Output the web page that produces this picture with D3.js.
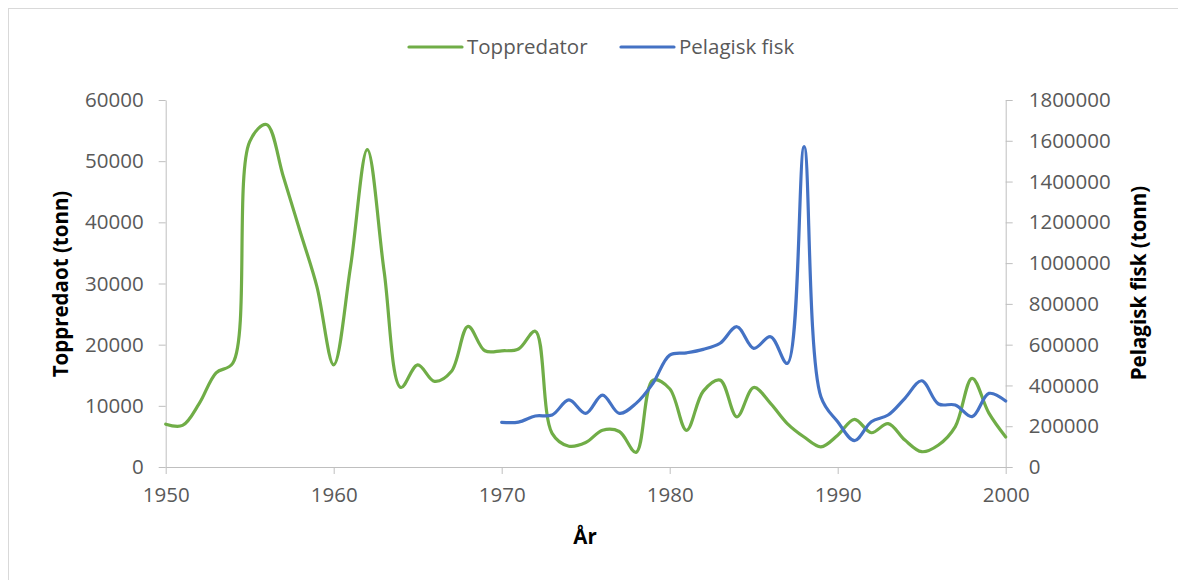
<!DOCTYPE html>
<html>
<head>
<meta charset="utf-8">
<script src="https://cdn.jsdelivr.net/npm/d3@7"></script>
<style>
  body { margin: 0; background: #fff; }
  text { font-family: "Open Sans", sans-serif; }
</style>
</head>
<body>
<script>
// data
const toppYears = d3.range(1950, 2001);
const toppredator = [7000, 6800, 10400, 15400, 17000, 53200, 56000, 47500, 38500, 29500,
  16700, 32700, 51900, 32000, 13000, 16700, 14000, 15600, 23000, 19000,
  19000, 19300, 22200, 5500, 3400, 4000, 6000, 5800, 2400, 14200,
  12800, 6000, 12400, 14200, 8200, 13000, 10400, 7100, 4900, 3300,
  5200, 7800, 5600, 7100, 4400, 2500, 3600, 6600, 14500, 8800, 4900];
const pelYears = d3.range(1970, 2001);
const pelagisk = [219000, 220000, 250000, 255000, 329000, 263000, 353000, 263000, 312000, 410000,
  549000, 560000, 577000, 607000, 688000, 582000, 639000, 508000, 1571000, 345000,
  222000, 129000, 222000, 255000, 337000, 423000, 309000, 304000, 247000, 361000, 324000];
const xTicks = [1950, 1960, 1970, 1980, 1990, 2000];
const leftTicks = d3.range(0, 60001, 10000);
const rightTicks = d3.range(0, 1800001, 200000);
const seriesNames = ["Toppredator", "Pelagisk fisk"];

const W = 1178, H = 580;
const xLeft = 165.7, xRight = 1005.7, yTop = 100, yBottom = 467;
const green = "#70AD47", blue = "#4472C4", axisCol = "#BFBFBF", txtCol = "#595959";
const fs = "20.5px";

const svg = d3.select("body").append("svg")
    .attr("width", W)
    .attr("height", H);

svg.append("rect")
    .attr("x", 8.5).attr("y", 8.5)
    .attr("width", 1300).attr("height", 700)
    .attr("fill", "white")
    .attr("stroke", "#D9D9D9");

let x = d3.scaleLinear().domain([1950, 2000]).range([xLeft, xRight]);
let yL = d3.scaleLinear().domain([0, 60000]).range([yBottom, yTop]);
let yR = d3.scaleLinear().domain([0, 1800000]).range([yBottom, yTop]);

function styleAxis(g) {
    g.select(".domain").attr("stroke", axisCol);
    g.selectAll(".tick line").attr("stroke", axisCol);
    g.selectAll(".tick text")
        .attr("fill", txtCol)
        .style("font-size", fs)
        .style("font-family", "'Open Sans', sans-serif");
}

svg.append("g")
    .attr("transform", `translate(${xLeft}, 0)`)
    .call(d3.axisLeft(yL).tickValues(leftTicks).tickFormat(d3.format("d")).tickSize(7).tickSizeOuter(0).tickPadding(15))
    .call(styleAxis);

svg.append("g")
    .attr("transform", `translate(${xRight}, 0)`)
    .call(d3.axisRight(yR).tickValues(rightTicks).tickFormat(d3.format("d")).tickSize(7).tickSizeOuter(0).tickPadding(16))
    .call(styleAxis);

svg.append("g")
    .attr("transform", `translate(0, ${yBottom})`)
    .call(d3.axisBottom(x).tickValues(xTicks).tickFormat(d3.format("d")).tickSize(7).tickSizeOuter(0).tickPadding(13))
    .call(styleAxis);

// axis titles
svg.append("text")
    .attr("transform", `translate(68, 284) rotate(-90)`)
    .attr("text-anchor", "middle")
    .style("font-size", fs).style("font-weight", "bold")
    .text("Toppredaot (tonn)");

svg.append("text")
    .attr("transform", `translate(1146, 283) rotate(-90)`)
    .attr("text-anchor", "middle")
    .style("font-size", fs).style("font-weight", "bold")
    .text("Pelagisk fisk (tonn)");

svg.append("text")
    .attr("x", 585).attr("y", 544)
    .attr("text-anchor", "middle")
    .style("font-size", fs).style("font-weight", "bold")
    .text("År");

// lines
const lineL = d3.line()
    .x((d, i) => x(toppYears[i]))
    .y(d => yL(d))
    .curve(d3.curveCatmullRom.alpha(0.5));
const lineR = d3.line()
    .x((d, i) => x(pelYears[i]))
    .y(d => yR(d))
    .curve(d3.curveCatmullRom.alpha(0.5));

svg.append("path")
    .attr("d", lineL(toppredator))
    .attr("fill", "none")
    .attr("stroke", green)
    .attr("stroke-width", 3.2)
    .attr("stroke-linecap", "round");

svg.append("path")
    .attr("d", lineR(pelagisk))
    .attr("fill", "none")
    .attr("stroke", blue)
    .attr("stroke-width", 3.2)
    .attr("stroke-linecap", "round");

// legend
const legend = svg.append("g");
const legItems = [{ name: seriesNames[0], col: green, x0: 409 }, { name: seriesNames[1], col: blue, x0: 621 }];
legItems.forEach(it => {
    legend.append("line")
        .attr("x1", it.x0).attr("x2", it.x0 + 53)
        .attr("y1", 47).attr("y2", 47)
        .attr("stroke", it.col).attr("stroke-width", 3.2).attr("stroke-linecap", "round");
    legend.append("text")
        .attr("x", it.x0 + 58).attr("y", 47)
        .attr("dy", "0.35em")
        .attr("fill", txtCol)
        .style("font-size", fs)
        .text(it.name);
});
</script>
</body>
</html>
